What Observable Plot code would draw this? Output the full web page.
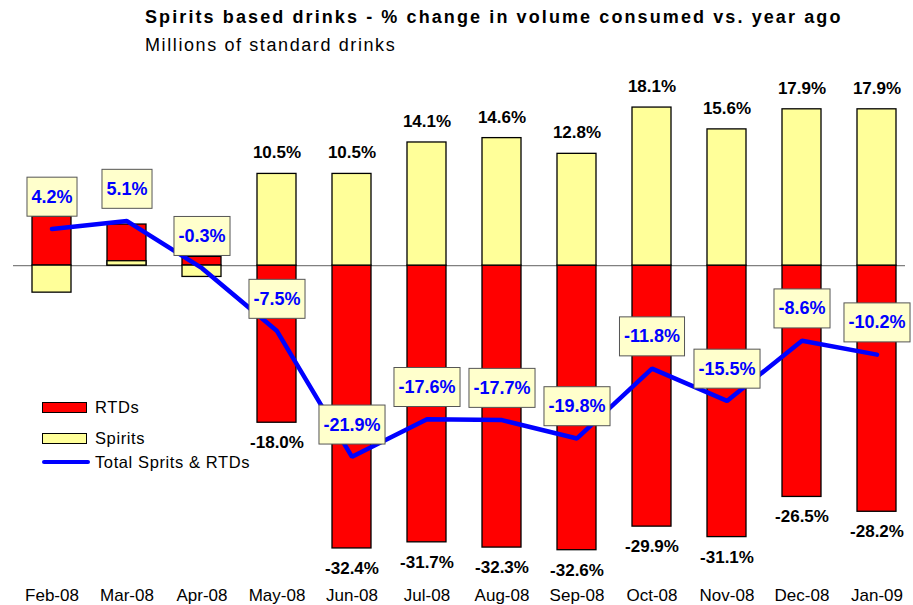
<!DOCTYPE html>
<html>
<head>
<meta charset="utf-8">
<script src="https://cdn.jsdelivr.net/npm/d3@7"></script>
<script src="https://cdn.jsdelivr.net/npm/@observablehq/plot@0.6"></script>
<style>
  html, body { margin: 0; padding: 0; background: #fff; }
  body { width: 913px; height: 605px; position: relative; overflow: hidden; font-family: "Liberation Sans", Arial, sans-serif; }
  #header { position: relative; height: 60px; }
  #title { position: absolute; left: 145px; top: 6px; font-size: 18px; font-weight: bold; letter-spacing: 2.1px; line-height: 22px; white-space: nowrap; color: #000; }
  #subtitle { position: absolute; left: 145px; top: 35px; font-size: 18px; letter-spacing: 1.6px; line-height: 20px; white-space: nowrap; color: #000; }
  #legend { position: absolute; left: 0; top: 0; font-size: 16.5px; letter-spacing: 0.6px; color: #000; }
  .item { position: absolute; left: 42px; white-space: nowrap; }
  .sw { position: absolute; left: 0; width: 43px; height: 9px; border: 1px solid #000; }
  .ln { position: absolute; left: 0; width: 48px; height: 4px; background: #0000ff; border-radius: 2px; }
  .lt { position: absolute; left: 53px; line-height: 18px; }
  #chart svg { display: block; }
</style>
</head>
<body>
<div id="header">
  <div id="title">Spirits based drinks - % change in volume consumed vs. year ago</div>
  <div id="subtitle">Millions of standard drinks</div>
</div>
<div id="chart"></div>
<div id="legend"></div>
<script>
const months = ["Feb-08","Mar-08","Apr-08","May-08","Jun-08","Jul-08","Aug-08","Sep-08","Oct-08","Nov-08","Dec-08","Jan-09"];
const rtds = [5.6, 4.7, 1.0, -18.0, -32.4, -31.7, -32.3, -32.6, -29.9, -31.1, -26.5, -28.2];
const spirits = [-3.1, 0.5, -1.3, 10.5, 10.5, 14.1, 14.6, 12.8, 18.1, 15.6, 17.9, 17.9];
const total = [4.2, 5.1, -0.3, -7.5, -21.9, -17.6, -17.7, -19.8, -11.8, -15.5, -8.6, -10.2];
const showBarLabel = [false, false, false, true, true, true, true, true, true, true, true, true];
const seriesNames = ["RTDs", "Spirits", "Total Sprits & RTDs"];
const colors = { RTDs: "#ff0000", Spirits: "#ffff99", Total: "#0000ff" };

const data = months.map((m, i) => ({ month: m, rtd: rtds[i], spirit: spirits[i], total: total[i], show: showBarLabel[i] }));
const fmt = v => v.toFixed(1) + "%";

const chart = Plot.plot({
  width: 913,
  height: 545,
  marginTop: 20,
  marginBottom: 23,
  marginLeft: 13,
  marginRight: 8,
  style: { fontFamily: "Liberation Sans, Arial, sans-serif", background: "#fff", overflow: "visible" },
  x: { domain: months, range: [13.5, 914.5], paddingInner: 0.48, paddingOuter: 0.24, label: null, tickSize: 0, tickPadding: 6 },
  y: { domain: [-36.3, 21.2], axis: null },
  marks: [
    Plot.ruleY([0], { stroke: "#808080", strokeWidth: 1.2 }),
    Plot.barY(data, { x: "month", y1: 0, y2: "rtd", fill: colors.RTDs, stroke: "#000", strokeWidth: 1.3 }),
    Plot.barY(data, { x: "month", y1: 0, y2: "spirit", fill: colors.Spirits, stroke: "#000", strokeWidth: 1.3 }),
    Plot.line(data, { x: "month", y: "total", stroke: colors.Total, strokeWidth: 4.5, strokeLinejoin: "miter" }),
    Plot.text(data.filter(d => d.show), { x: "month", y: "spirit", text: d => fmt(d.spirit), dy: -21, fontSize: 17, fontWeight: "bold", fill: "#000" }),
    Plot.text(data.filter(d => d.show), { x: "month", y: "rtd", text: d => fmt(d.rtd), dy: 20, fontSize: 17, fontWeight: "bold", fill: "#000" }),
    Plot.text(data, { x: "month", y: "total", text: d => fmt(d.total), dy: -32, fontSize: 18, fontWeight: "bold", fill: colors.Total }),
    Plot.axisX({ tickSize: 0, tickPadding: 6, fontSize: 17, fill: "#000", label: null })
  ]
});
document.getElementById("chart").appendChild(chart);

// Boxes behind the total-value labels
const textGroups = chart.querySelectorAll('g[aria-label="text"]');
const tg = textGroups[textGroups.length - 1];
const boxG = document.createElementNS("http://www.w3.org/2000/svg", "g");
if (tg.getAttribute("transform")) boxG.setAttribute("transform", tg.getAttribute("transform"));
tg.querySelectorAll("text").forEach(t => {
  const b = t.getBBox();
  const r = document.createElementNS("http://www.w3.org/2000/svg", "rect");
  r.setAttribute("x", b.x - 4.5);
  r.setAttribute("y", b.y - 9.5);
  r.setAttribute("width", b.width + 9);
  r.setAttribute("height", b.height + 19);
  r.setAttribute("fill", "#ffffcc");
  r.setAttribute("stroke", "#555");
  r.setAttribute("stroke-width", 1);
  if (t.getAttribute("transform")) r.setAttribute("transform", t.getAttribute("transform"));
  boxG.appendChild(r);
});
tg.parentNode.insertBefore(boxG, tg);

// Legend
const legend = document.getElementById("legend");
const legendTops = [402, 433, 460];
seriesNames.forEach((name, i) => {
  const item = document.createElement("div");
  item.className = "item";
  item.style.top = legendTops[i] + "px";
  const sw = document.createElement("div");
  if (i < 2) {
    sw.className = "sw";
    sw.style.background = i === 0 ? colors.RTDs : colors.Spirits;
  } else {
    sw.className = "ln";
  }
  const lt = document.createElement("div");
  lt.className = "lt";
  lt.textContent = name;
  lt.style.top = (i < 2 ? -4 : -7) + "px";
  item.appendChild(sw);
  item.appendChild(lt);
  legend.appendChild(item);
});
</script>
</body>
</html>
